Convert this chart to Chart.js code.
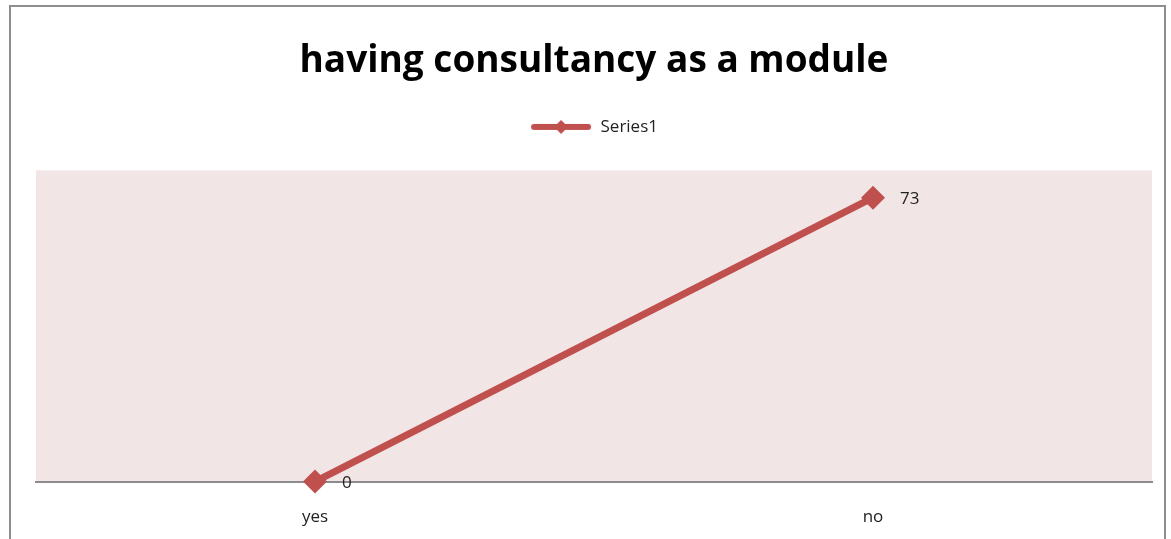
<!DOCTYPE html>
<html>
<head>
<meta charset="utf-8">
<script src="https://cdn.jsdelivr.net/npm/chart.js@4.4.1/dist/chart.umd.min.js"></script>
<style>
  html, body { margin: 0; padding: 0; background: #fff; overflow: hidden; }
  #frame { position: absolute; left: 9px; top: 5px; width: 1157px; height: 560px; border: 2px solid #8e8e8e; box-sizing: border-box; }
  #wrap { position: absolute; left: 0; top: 0; width: 1171px; height: 548px; }
</style>
</head>
<body>
<div id="frame"></div>
<div id="wrap"><canvas id="chart"></canvas></div>
<script>
var categories = ['yes', 'no'];
var seriesName = 'Series1';
var seriesValues = [0, 73];
var titleText = 'having consultancy as a module';

var lineColor = '#c0504d';
var plotBg = '#f2e5e5';

// legend marker: a thick line with a diamond in the middle
function legendMarker() {
  var c = document.createElement('canvas');
  c.width = 62; c.height = 16;
  var ctx = c.getContext('2d');
  ctx.strokeStyle = lineColor;
  ctx.lineWidth = 6;
  ctx.lineCap = 'round';
  ctx.beginPath(); ctx.moveTo(4, 8); ctx.lineTo(58, 8); ctx.stroke();
  ctx.fillStyle = lineColor;
  ctx.beginPath(); ctx.moveTo(31, 1); ctx.lineTo(38, 8); ctx.lineTo(31, 15); ctx.lineTo(24, 8); ctx.closePath(); ctx.fill();
  return c;
}

var plotBackground = {
  id: 'plotBackground',
  beforeDraw: function(chart) {
    var a = chart.chartArea, ctx = chart.ctx;
    ctx.save();
    ctx.fillStyle = plotBg;
    ctx.fillRect(a.left, a.top, a.right - a.left, a.bottom - a.top);
    ctx.restore();
  }
};

// extra room under the legend
var legendGap = {
  id: 'legendGap',
  beforeInit: function(chart) {
    var fit = chart.legend.fit;
    chart.legend.fit = function() {
      fit.call(this);
      this.height += 25;
    };
  }
};

var valueLabels = {
  id: 'valueLabels',
  afterDatasetsDraw: function(chart) {
    var ctx = chart.ctx;
    var meta = chart.getDatasetMeta(0);
    ctx.save();
    ctx.font = '17px "Open Sans", sans-serif';
    ctx.fillStyle = '#222';
    ctx.textBaseline = 'middle';
    ctx.textAlign = 'left';
    meta.data.forEach(function(pt, i) {
      ctx.fillText(String(seriesValues[i]), pt.x + 27, pt.y + 2);
    });
    ctx.restore();
  }
};

var marker = legendMarker();

new Chart(document.getElementById('chart'), {
  type: 'line',
  data: {
    labels: categories,
    datasets: [{
      label: seriesName,
      data: seriesValues,
      borderColor: lineColor,
      backgroundColor: lineColor,
      borderWidth: 7,
      pointStyle: 'rectRot',
      pointRadius: 12,
      pointHoverRadius: 12,
      pointBackgroundColor: lineColor,
      pointBorderColor: lineColor,
      pointBorderWidth: 0,
      tension: 0,
      fill: false,
      clip: false
    }]
  },
  options: {
    responsive: true,
    maintainAspectRatio: false,
    animation: false,
    layout: { padding: { left: 36, right: 19, top: 0, bottom: 4 } },
    plugins: {
      title: {
        display: true,
        text: titleText,
        color: '#000',
        font: { family: '"Open Sans", sans-serif', size: 37, weight: 'bold' },
        padding: { top: 39, bottom: 13 }
      },
      legend: {
        display: true,
        labels: {
          usePointStyle: true,
          pointStyleWidth: 62,
          color: '#222',
          font: { family: '"Open Sans", sans-serif', size: 17 },
          padding: 22,
          generateLabels: function(chart) {
            return [{ text: seriesName, pointStyle: marker, fillStyle: lineColor, strokeStyle: lineColor, lineWidth: 0, datasetIndex: 0, fontColor: '#222' }];
          }
        }
      },
      tooltip: { enabled: false }
    },
    scales: {
      x: {
        offset: true,
        grid: { display: false },
        border: { display: true, color: '#8c8c8c', width: 2 },
        ticks: { color: '#222', font: { family: '"Open Sans", sans-serif', size: 17 }, padding: 17 }
      },
      y: {
        display: false,
        min: 0,
        max: 80
      }
    }
  },
  plugins: [plotBackground, legendGap, valueLabels]
});
</script>
</body>
</html>
